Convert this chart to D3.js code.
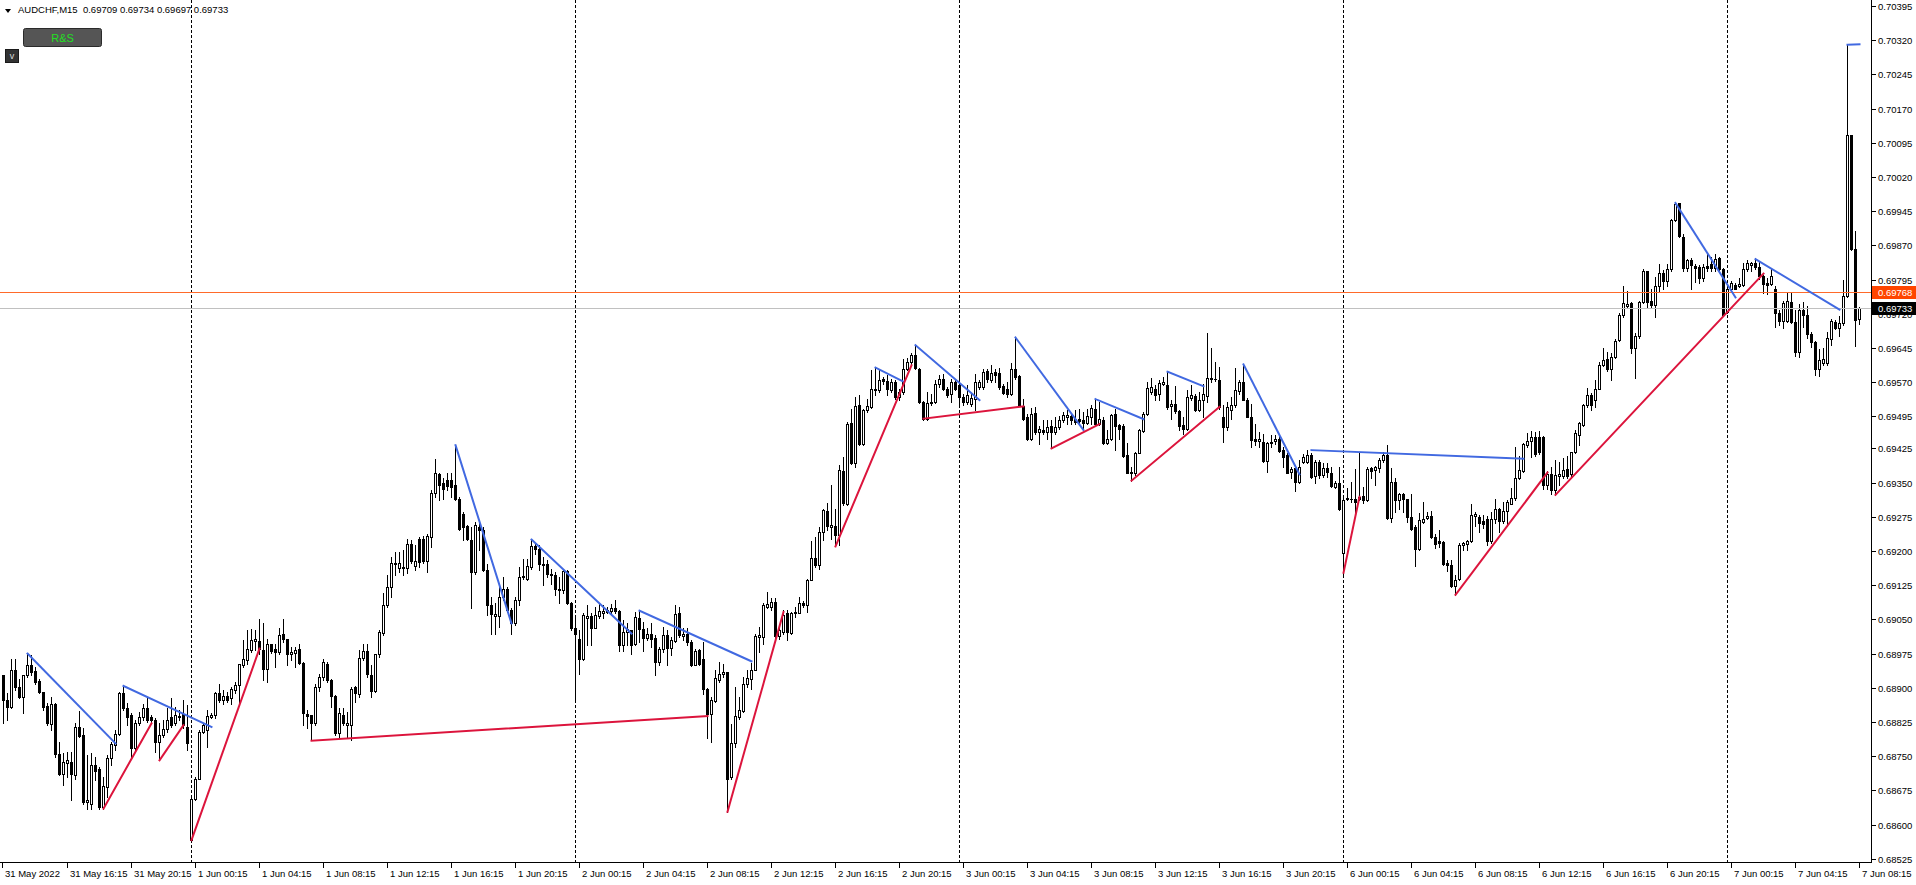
<!DOCTYPE html>
<html><head><meta charset="utf-8">
<script src="https://cdn.jsdelivr.net/npm/d3@7"></script>
<style>
html,body{margin:0;padding:0;background:#fff;overflow:hidden}
svg{display:block;font-family:"Liberation Sans",Arial,sans-serif}
</style></head><body>
<svg id="chart" width="1916" height="885"></svg>
<script>
// AUDCHF M15, bars numbered from 31 May 2022 12:00 (bar 0); data starts at bar 1
const symbolName = "AUDCHF,M15";
const firstBar = 1;
const opens = [
0.68928,0.68874,0.68857,0.68939,0.68902,0.68880,0.68928,0.68950,0.68937,0.68915,
0.68890,0.68860,0.68820,0.68864,0.68754,0.68712,0.68736,0.68738,0.68708,0.68813,
0.68796,0.68650,0.68646,0.68730,0.68721,0.68639,0.68683,0.68745,0.68774,0.68798,
0.68888,0.68855,0.68840,0.68767,0.68822,0.68836,0.68855,0.68835,0.68830,0.68782,
0.68796,0.68809,0.68835,0.68822,0.68839,0.68842,0.68814,0.68567,0.68657,0.68701,
0.68803,0.68807,0.68835,0.68840,0.68888,0.68874,0.68882,0.68877,0.68896,0.68906,
0.68950,0.68961,0.68983,0.69003,0.69003,0.68983,0.68942,0.68995,0.68985,0.68979,
0.69017,0.69006,0.68974,0.68977,0.68984,0.68955,0.68842,0.68840,0.68823,0.68902,
0.68923,0.68953,0.68917,0.68882,0.68800,0.68840,0.68818,0.68818,0.68902,0.68886,
0.68966,0.68981,0.68928,0.68893,0.68974,0.69021,0.69081,0.69121,0.69171,0.69162,
0.69162,0.69162,0.69216,0.69167,0.69227,0.69227,0.69178,0.69231,0.69326,0.69369,
0.69348,0.69355,0.69355,0.69344,0.69315,0.69282,0.69254,0.69225,0.69154,0.69253,
0.69247,0.69158,0.69081,0.69057,0.69058,0.69099,0.69117,0.69070,0.69041,0.69093,
0.69142,0.69139,0.69165,0.69210,0.69205,0.69172,0.69171,0.69150,0.69147,0.69116,
0.69114,0.69156,0.69085,0.69030,0.69006,0.68964,0.69054,0.69057,0.69032,0.69057,
0.69063,0.69070,0.69069,0.69074,0.69069,0.68993,0.69022,0.69026,0.68997,0.69054,
0.69028,0.69010,0.69019,0.69010,0.68957,0.68984,0.69015,0.68988,0.69003,0.69063,
0.69013,0.69017,0.69001,0.68949,0.68982,0.68964,0.68898,0.68843,0.68871,0.68918,
0.68930,0.68935,0.68704,0.68779,0.68836,0.68849,0.68908,0.68920,0.68940,0.69012,
0.69012,0.69077,0.69077,0.69088,0.69013,0.69022,0.69063,0.69020,0.69063,0.69064,
0.69085,0.69081,0.69137,0.69185,0.69169,0.69242,0.69288,0.69253,0.69254,0.69234,
0.69376,0.69304,0.69481,0.69393,0.69520,0.69435,0.69509,0.69516,0.69556,0.69552,
0.69576,0.69573,0.69552,0.69571,0.69538,0.69549,0.69600,0.69615,0.69629,0.69600,
0.69527,0.69490,0.69525,0.69527,0.69566,0.69576,0.69554,0.69544,0.69571,0.69563,
0.69538,0.69527,0.69523,0.69534,0.69560,0.69560,0.69595,0.69574,0.69593,0.69591,
0.69561,0.69556,0.69544,0.69598,0.69583,0.69517,0.69493,0.69446,0.69503,0.69461,
0.69466,0.69461,0.69474,0.69461,0.69472,0.69487,0.69494,0.69495,0.69490,0.69490,
0.69488,0.69481,0.69494,0.69512,0.69479,0.69488,0.69437,0.69446,0.69500,0.69476,
0.69474,0.69410,0.69370,0.69370,0.69415,0.69463,0.69501,0.69549,0.69554,0.69545,
0.69567,0.69563,0.69517,0.69523,0.69507,0.69476,0.69468,0.69536,0.69539,0.69510,
0.69531,0.69539,0.69580,0.69578,0.69574,0.69494,0.69472,0.69509,0.69520,0.69551,
0.69571,0.69532,0.69493,0.69446,0.69441,0.69439,0.69398,0.69439,0.69441,0.69446,
0.69421,0.69410,0.69373,0.69381,0.69351,0.69395,0.69395,0.69410,0.69364,0.69395,
0.69366,0.69381,0.69371,0.69341,0.69348,0.69196,0.69314,0.69315,0.69315,0.69315,
0.69320,0.69311,0.69381,0.69377,0.69381,0.69399,0.69410,0.69273,0.69351,0.69311,
0.69324,0.69313,0.69275,0.69253,0.69205,0.69264,0.69272,0.69277,0.69230,0.69221,
0.69220,0.69173,0.69169,0.69124,0.69139,0.69213,0.69215,0.69221,0.69277,0.69274,
0.69266,0.69270,0.69221,0.69270,0.69293,0.69266,0.69288,0.69304,0.69317,0.69359,
0.69376,0.69433,0.69442,0.69450,0.69450,0.69449,0.69345,0.69369,0.69333,0.69364,
0.69364,0.69380,0.69368,0.69416,0.69455,0.69477,0.69520,0.69542,0.69530,0.69556,
0.69607,0.69621,0.69599,0.69626,0.69662,0.69717,0.69737,0.69743,0.69645,0.69672,
0.69745,0.69813,0.69749,0.69739,0.69782,0.69810,0.69791,0.69818,0.69926,0.69962,
0.69889,0.69821,0.69837,0.69824,0.69822,0.69798,0.69824,0.69829,0.69821,0.69843,
0.69818,0.69725,0.69774,0.69783,0.69782,0.69783,0.69818,0.69826,0.69832,0.69822,
0.69802,0.69787,0.69786,0.69774,0.69721,0.69705,0.69705,0.69745,0.69701,0.69636,
0.69729,0.69718,0.69675,0.69658,0.69599,0.69611,0.69611,0.69664,0.69702,0.69688,
0.69699,0.69759,0.70111,0.69863,0.69709];
const highs = [
0.68928,0.68888,0.68964,0.68962,0.68920,0.68928,0.68975,0.68972,0.68945,0.68920,
0.68891,0.68866,0.68880,0.68866,0.68782,0.68756,0.68760,0.68760,0.68822,0.68849,
0.68811,0.68752,0.68756,0.68749,0.68727,0.68705,0.68752,0.68782,0.68807,0.68891,
0.68906,0.68866,0.68844,0.68829,0.68847,0.68864,0.68880,0.68840,0.68833,0.68822,
0.68829,0.68855,0.68877,0.68857,0.68851,0.68873,0.68862,0.68661,0.68705,0.68807,
0.68822,0.68851,0.68845,0.68891,0.68908,0.68895,0.68891,0.68902,0.68913,0.68953,
0.69004,0.69026,0.69028,0.69026,0.69050,0.69042,0.69008,0.68997,0.68997,0.69032,
0.69050,0.69008,0.68990,0.68990,0.68997,0.68957,0.68851,0.68840,0.68909,0.68931,
0.68962,0.68957,0.68920,0.68884,0.68855,0.68855,0.68847,0.68902,0.68904,0.68983,
0.68997,0.68997,0.68950,0.68975,0.69026,0.69108,0.69147,0.69187,0.69198,0.69198,
0.69202,0.69227,0.69224,0.69213,0.69230,0.69233,0.69238,0.69333,0.69401,0.69371,
0.69359,0.69371,0.69371,0.69432,0.69319,0.69286,0.69257,0.69253,0.69264,0.69261,
0.69253,0.69172,0.69099,0.69085,0.69121,0.69143,0.69121,0.69074,0.69099,0.69164,
0.69183,0.69183,0.69225,0.69216,0.69212,0.69187,0.69180,0.69161,0.69154,0.69143,
0.69158,0.69159,0.69088,0.69052,0.69026,0.69063,0.69081,0.69063,0.69077,0.69086,
0.69081,0.69077,0.69083,0.69093,0.69071,0.69048,0.69041,0.69026,0.69066,0.69069,
0.69044,0.69030,0.69041,0.69015,0.68990,0.69033,0.69026,0.69012,0.69081,0.69077,
0.69030,0.69030,0.69004,0.68984,0.68986,0.69001,0.68900,0.68880,0.68938,0.68957,
0.68953,0.68935,0.68821,0.68902,0.68880,0.68924,0.68938,0.68954,0.69019,0.69033,
0.69085,0.69110,0.69096,0.69096,0.69030,0.69070,0.69070,0.69066,0.69077,0.69099,
0.69090,0.69139,0.69222,0.69231,0.69253,0.69293,0.69305,0.69344,0.69293,0.69388,
0.69406,0.69483,0.69512,0.69538,0.69541,0.69512,0.69534,0.69596,0.69602,0.69600,
0.69582,0.69585,0.69578,0.69574,0.69556,0.69620,0.69622,0.69633,0.69651,0.69602,
0.69529,0.69549,0.69545,0.69574,0.69585,0.69589,0.69560,0.69578,0.69576,0.69600,
0.69545,0.69563,0.69545,0.69589,0.69574,0.69598,0.69600,0.69607,0.69600,0.69602,
0.69567,0.69571,0.69612,0.69668,0.69585,0.69534,0.69501,0.69514,0.69516,0.69474,
0.69487,0.69488,0.69488,0.69493,0.69495,0.69505,0.69509,0.69503,0.69509,0.69512,
0.69505,0.69512,0.69520,0.69534,0.69527,0.69494,0.69465,0.69501,0.69512,0.69479,
0.69478,0.69437,0.69383,0.69417,0.69468,0.69505,0.69571,0.69580,0.69563,0.69574,
0.69582,0.69593,0.69531,0.69561,0.69510,0.69494,0.69552,0.69563,0.69545,0.69549,
0.69567,0.69678,0.69644,0.69615,0.69604,0.69520,0.69527,0.69538,0.69602,0.69574,
0.69609,0.69536,0.69522,0.69479,0.69461,0.69456,0.69439,0.69454,0.69454,0.69457,
0.69428,0.69415,0.69384,0.69386,0.69399,0.69412,0.69421,0.69414,0.69399,0.69399,
0.69392,0.69392,0.69384,0.69354,0.69384,0.69319,0.69337,0.69351,0.69379,0.69415,
0.69341,0.69384,0.69384,0.69386,0.69403,0.69417,0.69432,0.69381,0.69359,0.69327,
0.69327,0.69315,0.69324,0.69256,0.69283,0.69307,0.69286,0.69288,0.69238,0.69246,
0.69221,0.69181,0.69181,0.69148,0.69217,0.69220,0.69225,0.69303,0.69285,0.69278,
0.69278,0.69277,0.69286,0.69315,0.69295,0.69307,0.69311,0.69339,0.69428,0.69408,
0.69437,0.69459,0.69463,0.69461,0.69463,0.69453,0.69376,0.69385,0.69400,0.69396,
0.69404,0.69408,0.69418,0.69465,0.69483,0.69523,0.69558,0.69546,0.69575,0.69615,
0.69645,0.69636,0.69634,0.69664,0.69721,0.69782,0.69770,0.69745,0.69678,0.69747,
0.69818,0.69814,0.69774,0.69800,0.69829,0.69816,0.69829,0.69928,0.69964,0.69964,
0.69895,0.69840,0.69843,0.69830,0.69826,0.69829,0.69851,0.69845,0.69851,0.69845,
0.69820,0.69783,0.69791,0.69788,0.69798,0.69832,0.69837,0.69834,0.69843,0.69834,
0.69806,0.69798,0.69818,0.69782,0.69729,0.69748,0.69767,0.69767,0.69729,0.69741,
0.69745,0.69737,0.69680,0.69660,0.69642,0.69645,0.69680,0.69709,0.69707,0.69715,
0.69794,0.70310,0.70113,0.69902,0.69734];
const lows = [
0.68822,0.68829,0.68855,0.68895,0.68877,0.68844,0.68924,0.68928,0.68909,0.68888,
0.68851,0.68818,0.68807,0.68749,0.68708,0.68686,0.68705,0.68654,0.68701,0.68792,
0.68646,0.68635,0.68635,0.68697,0.68635,0.68635,0.68661,0.68730,0.68763,0.68796,
0.68851,0.68818,0.68749,0.68763,0.68818,0.68829,0.68825,0.68822,0.68760,0.68741,
0.68792,0.68803,0.68814,0.68818,0.68829,0.68811,0.68763,0.68564,0.68654,0.68699,
0.68800,0.68771,0.68833,0.68833,0.68869,0.68864,0.68869,0.68864,0.68888,0.68862,
0.68946,0.68953,0.68979,0.68983,0.68975,0.68917,0.68913,0.68977,0.68946,0.68975,
0.69001,0.68950,0.68961,0.68946,0.68953,0.68818,0.68811,0.68785,0.68818,0.68893,
0.68917,0.68913,0.68858,0.68796,0.68789,0.68818,0.68792,0.68785,0.68869,0.68880,
0.68961,0.68924,0.68880,0.68891,0.68968,0.69015,0.69078,0.69099,0.69147,0.69154,
0.69147,0.69151,0.69173,0.69158,0.69165,0.69173,0.69154,0.69209,0.69319,0.69311,
0.69315,0.69333,0.69319,0.69311,0.69246,0.69224,0.69224,0.69074,0.69150,0.69202,
0.69156,0.69059,0.69017,0.69017,0.69033,0.69092,0.69066,0.69017,0.69037,0.69081,
0.69139,0.69136,0.69161,0.69194,0.69158,0.69125,0.69143,0.69128,0.69103,0.69085,
0.69107,0.69083,0.69026,0.68873,0.68931,0.68960,0.68993,0.68993,0.69030,0.69052,
0.69054,0.69063,0.69064,0.69063,0.68981,0.68981,0.68993,0.68975,0.68993,0.69001,
0.68981,0.69004,0.68990,0.68927,0.68949,0.68979,0.68949,0.68971,0.69001,0.69012,
0.69004,0.68993,0.68947,0.68949,0.68949,0.68887,0.68789,0.68781,0.68869,0.68913,
0.68924,0.68628,0.68701,0.68770,0.68832,0.68847,0.68902,0.68898,0.68938,0.68979,
0.68997,0.69074,0.69070,0.69004,0.69008,0.69019,0.69004,0.69017,0.69055,0.69063,
0.69077,0.69066,0.69136,0.69165,0.69161,0.69223,0.69245,0.69227,0.69210,0.69212,
0.69300,0.69300,0.69390,0.69384,0.69432,0.69432,0.69505,0.69514,0.69541,0.69549,
0.69567,0.69541,0.69549,0.69534,0.69530,0.69545,0.69596,0.69607,0.69598,0.69525,
0.69488,0.69488,0.69520,0.69525,0.69560,0.69552,0.69538,0.69527,0.69552,0.69523,
0.69520,0.69523,0.69517,0.69509,0.69556,0.69556,0.69571,0.69571,0.69571,0.69556,
0.69545,0.69538,0.69542,0.69578,0.69517,0.69487,0.69443,0.69443,0.69457,0.69434,
0.69457,0.69446,0.69425,0.69457,0.69468,0.69483,0.69479,0.69479,0.69479,0.69479,
0.69465,0.69479,0.69479,0.69476,0.69476,0.69434,0.69434,0.69443,0.69421,0.69446,
0.69406,0.69370,0.69354,0.69366,0.69414,0.69461,0.69498,0.69545,0.69531,0.69531,
0.69563,0.69512,0.69490,0.69503,0.69465,0.69457,0.69465,0.69531,0.69507,0.69507,
0.69493,0.69527,0.69571,0.69573,0.69512,0.69439,0.69465,0.69490,0.69516,0.69545,
0.69531,0.69493,0.69427,0.69432,0.69428,0.69395,0.69373,0.69428,0.69434,0.69417,
0.69384,0.69370,0.69359,0.69332,0.69348,0.69392,0.69392,0.69361,0.69348,0.69359,
0.69362,0.69362,0.69341,0.69337,0.69289,0.69150,0.69311,0.69308,0.69286,0.69311,
0.69305,0.69310,0.69361,0.69344,0.69373,0.69395,0.69271,0.69264,0.69286,0.69293,
0.69286,0.69264,0.69245,0.69167,0.69202,0.69262,0.69270,0.69228,0.69207,0.69209,
0.69169,0.69155,0.69120,0.69104,0.69136,0.69201,0.69201,0.69220,0.69254,0.69242,
0.69250,0.69213,0.69217,0.69262,0.69242,0.69262,0.69254,0.69303,0.69312,0.69358,
0.69374,0.69428,0.69407,0.69408,0.69412,0.69335,0.69335,0.69325,0.69323,0.69345,
0.69359,0.69361,0.69364,0.69415,0.69433,0.69475,0.69515,0.69510,0.69515,0.69554,
0.69605,0.69595,0.69575,0.69623,0.69660,0.69713,0.69733,0.69634,0.69579,0.69668,
0.69743,0.69733,0.69735,0.69713,0.69770,0.69774,0.69780,0.69813,0.69924,0.69889,
0.69813,0.69814,0.69774,0.69790,0.69788,0.69791,0.69814,0.69814,0.69814,0.69814,
0.69717,0.69721,0.69770,0.69774,0.69778,0.69782,0.69814,0.69814,0.69818,0.69796,
0.69765,0.69764,0.69783,0.69692,0.69696,0.69688,0.69701,0.69699,0.69627,0.69626,
0.69692,0.69668,0.69648,0.69585,0.69583,0.69607,0.69607,0.69652,0.69686,0.69672,
0.69696,0.69757,0.69859,0.69650,0.69697];
const closes = [
0.68873,0.68857,0.68939,0.68902,0.68880,0.68928,0.68950,0.68935,0.68913,0.68890,
0.68858,0.68822,0.68864,0.68754,0.68712,0.68738,0.68741,0.68712,0.68813,0.68794,
0.68650,0.68655,0.68730,0.68718,0.68639,0.68684,0.68745,0.68776,0.68798,0.68888,
0.68855,0.68836,0.68767,0.68822,0.68836,0.68855,0.68829,0.68829,0.68782,0.68796,
0.68809,0.68830,0.68818,0.68840,0.68835,0.68818,0.68778,0.68657,0.68701,0.68803,
0.68818,0.68838,0.68840,0.68888,0.68874,0.68882,0.68874,0.68898,0.68906,0.68952,
0.68962,0.68984,0.69004,0.69006,0.68984,0.68942,0.68997,0.68981,0.68979,0.69015,
0.69006,0.68975,0.68979,0.68983,0.68955,0.68844,0.68838,0.68823,0.68902,0.68923,
0.68957,0.68917,0.68882,0.68800,0.68844,0.68822,0.68822,0.68898,0.68888,0.68966,
0.68981,0.68930,0.68893,0.68974,0.69023,0.69081,0.69120,0.69173,0.69174,0.69174,
0.69164,0.69216,0.69178,0.69178,0.69176,0.69178,0.69233,0.69326,0.69370,0.69344,
0.69335,0.69342,0.69341,0.69315,0.69249,0.69253,0.69227,0.69154,0.69256,0.69247,
0.69158,0.69081,0.69061,0.69061,0.69099,0.69117,0.69070,0.69041,0.69093,0.69142,
0.69145,0.69166,0.69210,0.69205,0.69172,0.69169,0.69149,0.69147,0.69117,0.69114,
0.69156,0.69085,0.69032,0.69019,0.68964,0.69059,0.69057,0.69032,0.69059,0.69068,
0.69069,0.69066,0.69074,0.69069,0.68993,0.69022,0.69028,0.68993,0.69055,0.69028,
0.69010,0.69017,0.69008,0.68957,0.68984,0.69015,0.68988,0.69004,0.69061,0.69015,
0.69017,0.69001,0.68949,0.68981,0.68952,0.68898,0.68843,0.68874,0.68922,0.68930,
0.68935,0.68701,0.68779,0.68838,0.68851,0.68909,0.68922,0.68938,0.69013,0.69015,
0.69081,0.69083,0.69088,0.69013,0.69026,0.69059,0.69022,0.69063,0.69066,0.69085,
0.69081,0.69137,0.69185,0.69169,0.69242,0.69289,0.69254,0.69256,0.69234,0.69377,
0.69305,0.69479,0.69393,0.69517,0.69435,0.69509,0.69517,0.69554,0.69552,0.69574,
0.69573,0.69554,0.69571,0.69538,0.69549,0.69600,0.69615,0.69629,0.69602,0.69527,
0.69490,0.69525,0.69527,0.69567,0.69578,0.69556,0.69541,0.69571,0.69556,0.69538,
0.69527,0.69542,0.69536,0.69571,0.69571,0.69593,0.69576,0.69591,0.69585,0.69560,
0.69547,0.69544,0.69598,0.69582,0.69520,0.69490,0.69446,0.69501,0.69461,0.69468,
0.69461,0.69472,0.69461,0.69472,0.69487,0.69498,0.69498,0.69488,0.69483,0.69485,
0.69481,0.69495,0.69514,0.69479,0.69490,0.69437,0.69446,0.69498,0.69474,0.69468,
0.69408,0.69371,0.69373,0.69415,0.69465,0.69501,0.69558,0.69560,0.69542,0.69569,
0.69571,0.69516,0.69523,0.69507,0.69474,0.69468,0.69538,0.69542,0.69510,0.69531,
0.69544,0.69580,0.69577,0.69576,0.69516,0.69472,0.69516,0.69520,0.69553,0.69571,
0.69532,0.69494,0.69444,0.69441,0.69446,0.69398,0.69436,0.69436,0.69446,0.69419,
0.69406,0.69371,0.69379,0.69351,0.69384,0.69406,0.69410,0.69362,0.69395,0.69366,
0.69381,0.69373,0.69342,0.69348,0.69293,0.69311,0.69316,0.69313,0.69308,0.69319,
0.69311,0.69379,0.69376,0.69384,0.69399,0.69410,0.69273,0.69351,0.69311,0.69324,
0.69313,0.69275,0.69249,0.69205,0.69267,0.69270,0.69277,0.69230,0.69215,0.69217,
0.69171,0.69169,0.69124,0.69136,0.69213,0.69217,0.69221,0.69278,0.69282,0.69262,
0.69260,0.69221,0.69270,0.69293,0.69266,0.69288,0.69307,0.69317,0.69359,0.69377,
0.69434,0.69442,0.69450,0.69412,0.69416,0.69345,0.69369,0.69333,0.69366,0.69369,
0.69377,0.69364,0.69416,0.69459,0.69480,0.69520,0.69542,0.69520,0.69556,0.69607,
0.69618,0.69599,0.69626,0.69660,0.69717,0.69743,0.69741,0.69645,0.69672,0.69745,
0.69814,0.69745,0.69739,0.69782,0.69810,0.69791,0.69818,0.69926,0.69960,0.69891,
0.69821,0.69837,0.69826,0.69821,0.69798,0.69822,0.69821,0.69821,0.69840,0.69818,
0.69718,0.69774,0.69788,0.69775,0.69786,0.69818,0.69832,0.69832,0.69822,0.69802,
0.69786,0.69784,0.69802,0.69721,0.69705,0.69743,0.69748,0.69701,0.69636,0.69729,
0.69718,0.69675,0.69658,0.69599,0.69619,0.69621,0.69666,0.69705,0.69688,0.69699,
0.69759,0.70111,0.69863,0.69707,0.69733];

// day separators (bar numbers of 00:00)
const separatorBars = [48, 144, 240, 336, 432];
// time axis
const xTickBars = [0.75,17,33,49,65,81,97,113,129,145,161,177,193,209,225,241,257,273,289,305,321,337,353,369,385,401,417,433,449,465];
const xTickLabels = ["31 May 2022","31 May 16:15","31 May 20:15","1 Jun 00:15","1 Jun 04:15","1 Jun 08:15","1 Jun 12:15","1 Jun 16:15","1 Jun 20:15","2 Jun 00:15","2 Jun 04:15","2 Jun 08:15","2 Jun 12:15","2 Jun 16:15","2 Jun 20:15","3 Jun 00:15","3 Jun 04:15","3 Jun 08:15","3 Jun 12:15","3 Jun 16:15","3 Jun 20:15","6 Jun 00:15","6 Jun 04:15","6 Jun 08:15","6 Jun 12:15","6 Jun 16:15","6 Jun 20:15","7 Jun 00:15","7 Jun 04:15","7 Jun 08:15"];
// price axis
const yTickValues = [0.70395,0.70320,0.70245,0.70170,0.70095,0.70020,0.69945,0.69870,0.69795,0.69720,0.69645,0.69570,0.69495,0.69425,0.69350,0.69275,0.69200,0.69125,0.69050,0.68975,0.68900,0.68825,0.68750,0.68675,0.68600,0.68525];
// R&S indicator segments: [bar1, price1, bar2, price2]
const resistanceLines = [
[7,0.68975,29,0.68778],[31,0.68904,53,0.68814],[114,0.69432,128,0.69041],[133,0.69225,158,0.69019],
[160,0.69069,188,0.68958],[219,0.69602,226,0.69571],[229,0.69651,245,0.69531],[254,0.69668,271,0.69465],
[274,0.69533,286,0.69489],[292,0.69593,301,0.69561],[311,0.69609,325,0.69368],[328,0.69421,381,0.69402],
[419,0.69963,434,0.69756],[439,0.69840,460,0.69729],[462,0.70310,465,0.70311]];
const supportLines = [
[26,0.68635,38,0.68822],[40,0.68741,46,0.68818],[48,0.68566,65,0.68986],[78,0.68784,177,0.68838],
[182,0.68628,196,0.69066],[209,0.69210,228,0.69607],[231,0.69490,256,0.69517],[263,0.69425,275,0.69478],
[283,0.69354,305,0.69516],[336,0.69152,340,0.69319],[364,0.69104,387,0.69372],[389,0.69323,441,0.69808]];
const levelLine = 0.69768;
const bidPrice = 0.69733;

const svg = d3.select("#chart");
const plotRight = 1871, plotBottom = 862;
const FS = 9.5;
const x = d3.scaleLinear().domain([0, 465]).range([-1, 1859]);
const y = d3.scaleLinear().domain([0.68518, 0.70408]).range([plotBottom, 0]);
const col = b => Math.round(x(b));
const py = v => Math.round(y(v));

const n = Math.min(opens.length, highs.length, lows.length, closes.length);
const bars = d3.range(n).map(i => ({b: i + firstBar, o: opens[i], h: highs[i], l: lows[i], c: closes[i]}));

const plot = svg.append("g");
// separators
plot.selectAll("line.sep").data(separatorBars).join("line")
  .attr("x1", d => col(d) + 0.5).attr("x2", d => col(d) + 0.5)
  .attr("y1", 0).attr("y2", plotBottom)
  .attr("stroke", "#000").attr("stroke-width", 1).attr("stroke-dasharray", "3,2");

// candles
const cg = plot.append("g");
cg.selectAll("rect.wick").data(bars).join("rect")
  .attr("x", d => col(d.b)).attr("width", 1)
  .attr("y", d => py(d.h)).attr("height", d => py(d.l) - py(d.h) + 1)
  .attr("fill", "#000");
cg.selectAll("rect.body").data(bars).join("rect")
  .each(function(d) {
    const top = py(Math.max(d.o, d.c)), bot = py(Math.min(d.o, d.c));
    const s = d3.select(this);
    if (bot - top < 1) {
      s.attr("x", col(d.b) - 1).attr("y", top).attr("width", 3).attr("height", 1).attr("fill", "#000");
    } else if (d.c < d.o) {
      s.attr("x", col(d.b) - 1).attr("y", top).attr("width", 3).attr("height", bot - top + 1).attr("fill", "#000");
    } else {
      s.attr("x", col(d.b) - 0.5).attr("y", top + 0.5).attr("width", 2).attr("height", bot - top)
       .attr("fill", "#fff").attr("stroke", "#000").attr("stroke-width", 1);
    }
  });

// horizontal lines
plot.append("line").attr("x1", 0).attr("x2", plotRight).attr("y1", py(bidPrice) + 0.5).attr("y2", py(bidPrice) + 0.5)
  .attr("stroke", "#c0c0c0").attr("stroke-width", 1);
plot.append("line").attr("x1", 0).attr("x2", plotRight).attr("y1", py(levelLine) + 0.5).attr("y2", py(levelLine) + 0.5)
  .attr("stroke", "#ff6a2a").attr("stroke-width", 1);

// R&S lines
const segs = (data, color) => plot.append("g").selectAll("line").data(data).join("line")
  .attr("x1", d => x(d[0]) + 0.5).attr("y1", d => y(d[1]))
  .attr("x2", d => x(d[2]) + 0.5).attr("y2", d => y(d[3]))
  .attr("stroke", color).attr("stroke-width", 2).attr("stroke-linecap", "square");
segs(resistanceLines, "#4169e1");
segs(supportLines, "#dc143c");

// axes
svg.append("rect").attr("x", plotRight).attr("y", 0).attr("width", 1).attr("height", plotBottom + 1).attr("fill", "#000");
svg.append("rect").attr("x", 0).attr("y", plotBottom).attr("width", plotRight + 1).attr("height", 1).attr("fill", "#000");

const ya = svg.append("g").attr("font-size", FS).attr("fill", "#000");
ya.selectAll("rect").data(yTickValues).join("rect")
  .attr("x", plotRight + 1).attr("y", d => py(d)).attr("width", 4).attr("height", 1).attr("fill", "#000");
ya.selectAll("text").data(yTickValues).join("text")
  .attr("x", plotRight + 7).attr("y", d => py(d) + 4).text(d => d.toFixed(5));

const xa = svg.append("g").attr("font-size", FS).attr("fill", "#000");
xa.selectAll("rect").data(xTickBars).join("rect")
  .attr("x", d => col(d)).attr("y", plotBottom + 1).attr("width", 1).attr("height", 5).attr("fill", "#000");
xa.selectAll("text").data(xTickLabels).join("text")
  .attr("x", (d, i) => col(xTickBars[i]) + 3).attr("y", plotBottom + 15).text(d => d);

// price labels
function priceBox(v, bg) {
  const g = svg.append("g");
  g.append("rect").attr("x", plotRight + 1).attr("y", py(v) - 6).attr("width", 1916 - plotRight - 1).attr("height", 13).attr("fill", bg);
  g.append("text").attr("x", plotRight + 7).attr("y", py(v) + 4).attr("font-size", FS).attr("fill", "#fff").text(v.toFixed(5));
}
priceBox(levelLine, "#ff4500");
priceBox(bidPrice, "#000");

// header
const last = n - 1;
svg.append("path").attr("d", "M5,9 L11,9 L8,13 Z").attr("fill", "#000");
svg.append("text").attr("x", 18).attr("y", 13).attr("font-size", FS).attr("fill", "#000")
  .attr("xml:space", "preserve")
  .text(symbolName + "  " + [opens[last], highs[last], lows[last], closes[last]].map(v => v.toFixed(5)).join(" "));
// R&S button and small box
svg.append("rect").attr("x", 23.5).attr("y", 28.5).attr("width", 78).attr("height", 18).attr("rx", 2)
  .attr("fill", "#555").attr("stroke", "#2a2a2a");
svg.append("text").attr("x", 62.5).attr("y", 42).attr("text-anchor", "middle").attr("font-size", 11)
  .attr("fill", "#22e022").text("R&S");
svg.append("rect").attr("x", 5.5).attr("y", 49.5).attr("width", 13).attr("height", 13).attr("fill", "#333").attr("stroke", "#1a1a1a");
svg.append("text").attr("x", 12).attr("y", 59).attr("text-anchor", "middle").attr("font-size", 9).attr("fill", "#ddd").text("v");
</script>
</body></html>
